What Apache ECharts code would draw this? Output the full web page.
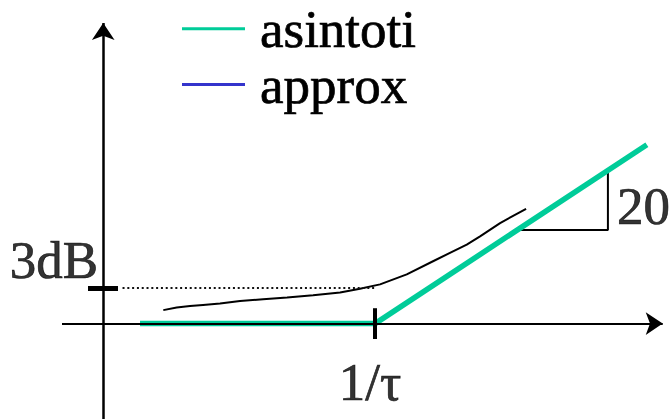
<!DOCTYPE html>
<html>
<head>
<meta charset="utf-8">
<style>
  html, body { margin: 0; padding: 0; background: #ffffff; }
  #chart { width: 671px; height: 419px; }
</style>
<script src="https://cdn.jsdelivr.net/npm/echarts@6/dist/echarts.min.js"></script>
</head>
<body>
<div id="chart"></div>
<script>
// Bode magnitude sketch: x = log10(omega * tau) in decades, y = gain in dB (schematic)
const seriesNames = ['asintoti', 'approx'];

// asymptotes: flat up to the corner frequency, then rising
const asymptote = [[-2.594, 0], [0, 0], [3, 15]];

// hand-drawn real response (approximation)
const approx = [
  [-2.337, 1.13], [-2.189, 1.35], [-2.042, 1.48], [-1.898, 1.57], [-1.711, 1.68],
  [-1.490, 1.90], [-1.236, 2.04], [-0.971, 2.18], [-0.684, 2.38], [-0.386, 2.60],
  [-0.166, 2.93], [0.055, 3.29], [0.350, 4.13], [0.640, 5.23], [1.012, 6.63],
  [1.159, 7.32], [1.380, 8.43], [1.667, 9.63]
];

// slope triangle: one decade along the asymptote
const slopeTriangle = [[1.57, 7.85], [2.57, 7.85], [2.57, 12.85]];

// reference level and corner frequency
const levelDb = 3;
const cornerX = 0;
const levelLabel = '3dB';
const cornerLabel = '1/\u03c4';
const slopeLabel = '20';

// axis extents
const yAxisX = -3;
const xAxisRange = [-3.455, 3.175];
const yAxisRange = [-8, 25.2];
const levelTickRange = [-3.168, -2.837];
const cornerTickRange = [-1.29, 1.29];

const GREEN = '#00cc99';
const BLUE = '#3434cc';
const FONT = '"Liberation Serif", "Times New Roman", serif';

const chart = echarts.init(document.getElementById('chart'), null, { renderer: 'svg' });

const noLabel = { show: false };
const seg = (a, b, style, sym) => [
  { coord: a, symbol: sym ? sym[0] : 'none', lineStyle: style, label: noLabel },
  { coord: b, symbol: sym ? sym[1] : 'none' }
];

// slightly heavier serif text
const textStyleBase = {
  color: '#000', fontSize: 53, fontFamily: FONT,
  textBorderColor: '#000', textBorderWidth: 0.7
};

chart.setOption({
  animation: false,
  backgroundColor: '#ffffff',
  grid: { left: 62, width: 601, top: 22.5, height: 399, containLabel: false },
  xAxis: { type: 'value', min: -3.455, max: 3.178, show: false },
  yAxis: { type: 'value', min: -8, max: 25.25, show: false },
  legend: {
    orient: 'vertical',
    left: 182,
    top: 2,
    padding: 0,
    itemWidth: 63,
    itemHeight: 3,
    itemGap: 2,
    icon: 'rect',
    textStyle: Object.assign({ padding: [0, 0, 0, 10] }, textStyleBase),
    data: [
      { name: seriesNames[0], itemStyle: { color: GREEN } },
      { name: seriesNames[1], itemStyle: { color: BLUE } }
    ]
  },
  series: [
    {
      name: seriesNames[0],
      type: 'line',
      data: asymptote,
      symbol: 'none',
      lineStyle: { color: GREEN, width: 5.5, cap: 'butt' },
      itemStyle: { color: GREEN },
      z: 3,
      markLine: {
        silent: true,
        symbolSize: [17, 17],
        label: noLabel,
        data: [
          // axes with arrow heads
          seg([xAxisRange[0], 0], [xAxisRange[1], 0], { color: '#000', width: 2, type: 'solid' }, ['none', 'arrow']),
          seg([yAxisX, yAxisRange[0]], [yAxisX, yAxisRange[1]], { color: '#000', width: 2.5, type: 'solid' }, ['none', 'arrow']),
          // 3 dB tick and dotted guide
          seg([levelTickRange[0], levelDb], [levelTickRange[1], levelDb], { color: '#000', width: 5, type: 'solid' }),
          seg([levelTickRange[1] + 0.05, levelDb], [cornerX, levelDb], { color: '#111', width: 2, type: [2, 2.8] }),
          // corner frequency tick
          seg([cornerX, cornerTickRange[0]], [cornerX, cornerTickRange[1]], { color: '#000', width: 4, type: 'solid' })
        ]
      }
    },
    {
      name: seriesNames[1],
      type: 'line',
      data: approx,
      symbol: 'none',
      lineStyle: { color: '#000', width: 2 },
      itemStyle: { color: '#000' },
      z: 4
    },
    {
      name: 'slope',
      type: 'line',
      data: slopeTriangle,
      symbol: 'none',
      lineStyle: { color: '#000', width: 2 },
      z: 2
    },
    {
      name: 'labels',
      type: 'scatter',
      symbolSize: 0,
      silent: true,
      z: 5,
      data: [
        {
          value: [levelTickRange[0], levelDb],
          label: Object.assign({ show: true, formatter: levelLabel, position: 'inside', align: 'right', verticalAlign: 'middle', offset: [10, -28] }, textStyleBase)
        },
        {
          value: [cornerX, 0],
          label: Object.assign({ show: true, formatter: cornerLabel, position: 'inside', align: 'center', verticalAlign: 'middle', offset: [-5, 58] }, textStyleBase)
        },
        {
          value: [slopeTriangle[1][0], (slopeTriangle[1][1] + slopeTriangle[2][1]) / 2],
          label: Object.assign({ show: true, formatter: slopeLabel, position: 'inside', align: 'left', verticalAlign: 'middle', offset: [9, 6] }, textStyleBase)
        }
      ],
      label: textStyleBase
    }
  ]
});
</script>
</body>
</html>
